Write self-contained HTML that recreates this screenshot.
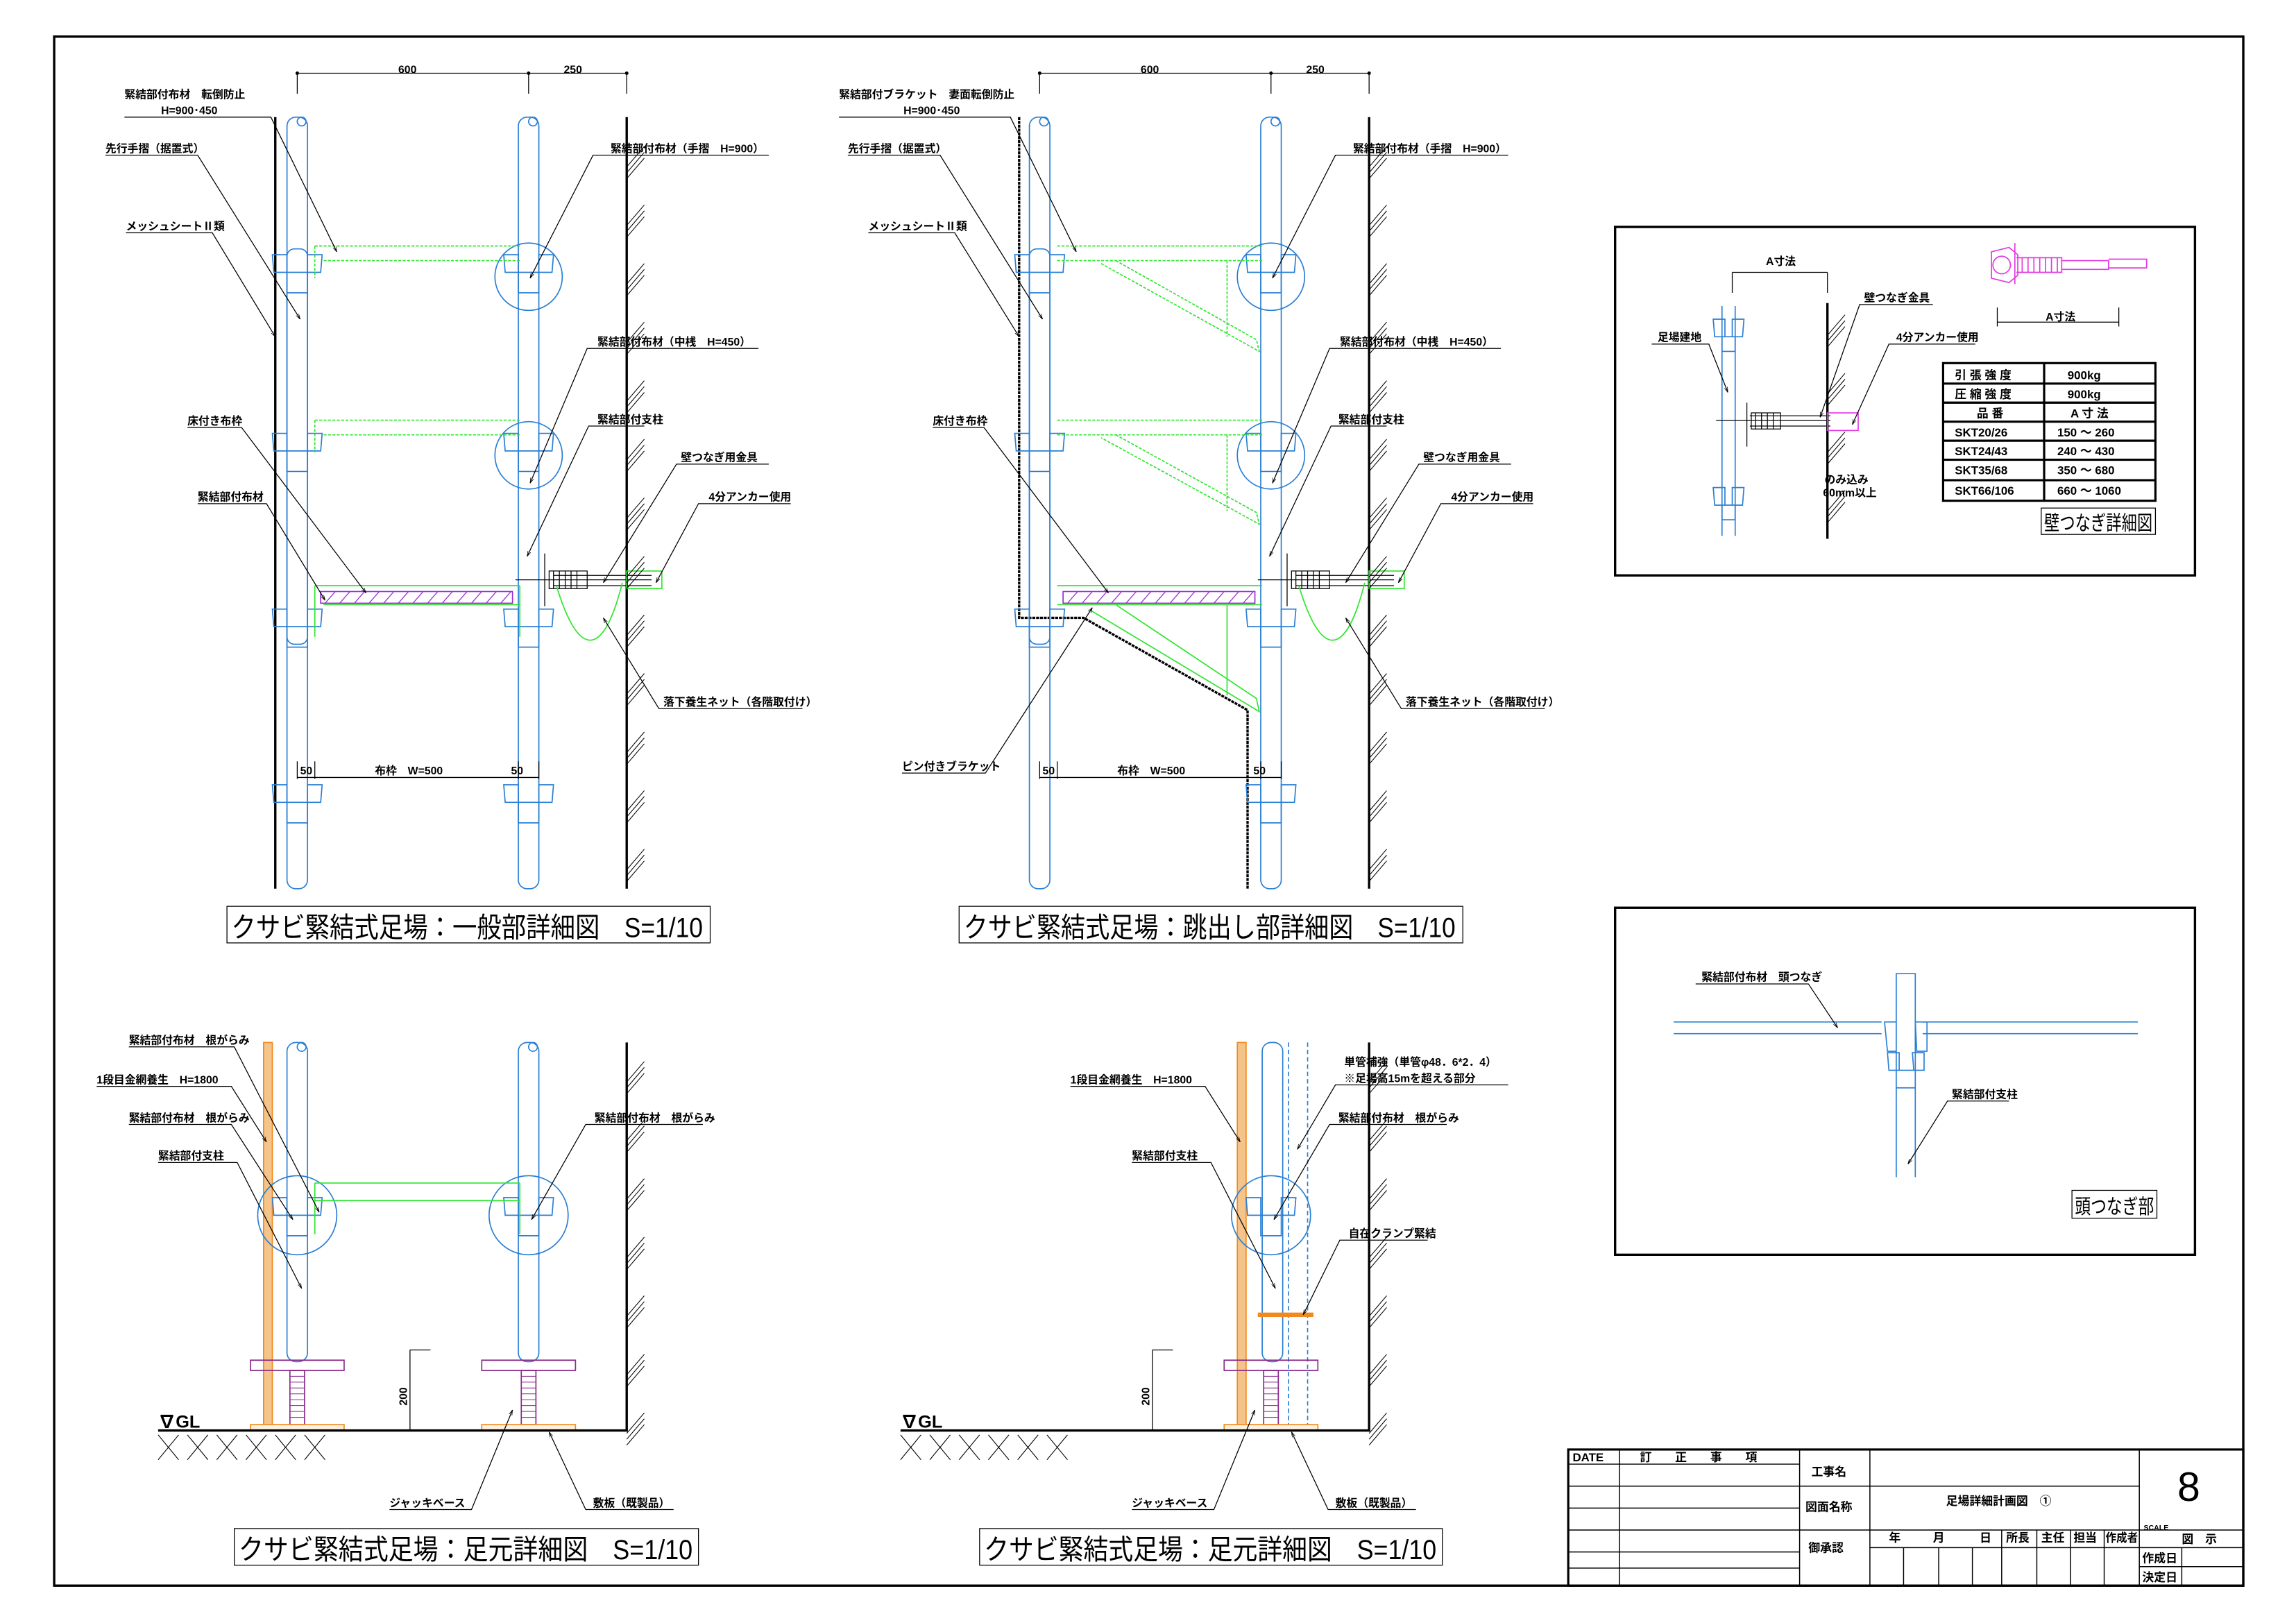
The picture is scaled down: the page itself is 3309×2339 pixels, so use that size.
<!DOCTYPE html>
<html><head><meta charset="utf-8"><style>
html,body{margin:0;padding:0;background:#fff}
svg{display:block}
text{font-family:"Liberation Sans","Noto Sans CJK JP",sans-serif;font-weight:bold;fill:#000}
.l{font-size:7.5px}
.t{font-size:19px;font-weight:normal}
.k{stroke:#000;fill:none;stroke-width:0.6}
.K{stroke:#000;fill:none;stroke-width:1.6}
.b{stroke:#2a7fd4;fill:none;stroke-width:0.8}
.g{stroke:#2ee62e;fill:none;stroke-width:0.8}
.gd{stroke:#2ee62e;fill:none;stroke-width:0.8;stroke-dasharray:2 1}
</style></head><body>
<svg id="s" width="3309" height="2339" viewBox="0 0 1568 1108.5" preserveAspectRatio="none" xmlns="http://www.w3.org/2000/svg">
<defs>
<marker id="ar" viewBox="0 0 10 10" refX="10" refY="5" markerWidth="6" markerHeight="6" orient="auto"><path d="M0,2 L10,5 L0,8" fill="none" stroke="#000" stroke-width="1"/></marker>
<g id="tube"><rect x="-7" y="0" width="14" height="527" rx="6" class="b"/><circle cx="3" cy="3" r="3" class="b"/></g>
<g id="cpl"><path d="M-17,-4 h10 v12 h-9 z M7,-4 h10 l-1,12 h-9 z M-7,8 h14 v14 h-14 z" class="b"/></g>
</defs>
<rect x="37" y="25" width="1495" height="1058" class="K" stroke-width="1"/>

<!-- ============ DRAWING 1 ============ -->
<g id="d1">
<line x1="203" y1="50" x2="428" y2="50" class="k"/>
<line x1="203" y1="50" x2="203" y2="64" class="k"/><line x1="361" y1="50" x2="361" y2="64" class="k"/><line x1="428" y1="50" x2="428" y2="64" class="k"/>
<circle cx="203" cy="50" r="1.2"/><circle cx="361" cy="50" r="1.2"/><circle cx="428" cy="50" r="1.2"/>
<text x="272" y="50" class="l">600</text><text x="385" y="50" class="l">250</text>
<line x1="188" y1="80" x2="188" y2="607" class="K" stroke-width="1.3"/>
<line x1="428" y1="80" x2="428" y2="607" class="K"/>
<use href="#tube" x="203" y="80"/><use href="#tube" x="361" y="80"/>
<rect x="196" y="170" width="14" height="270" rx="5" class="b"/>
<use href="#cpl" x="203" y="178"/><use href="#cpl" x="361" y="178"/>
<use href="#cpl" x="203" y="300"/><use href="#cpl" x="361" y="300"/>
<use href="#cpl" x="203" y="420"/><use href="#cpl" x="361" y="420"/>
<use href="#cpl" x="203" y="540"/><use href="#cpl" x="361" y="540"/>
<circle cx="361" cy="189" r="23" class="b"/><circle cx="361" cy="311" r="23" class="b"/>
<path d="M215,168 H355 M221,178 H355 M215,168 v22" class="gd"/>
<path d="M215,287 H355 M221,297 H355 M215,287 v22" class="gd"/>
<path d="M215,400 H355 M221,413 H355 M215,400 v35 M355,400 v35" class="g"/>
<rect x="219" y="404" width="131" height="8" stroke="#9b30d0" fill="none" stroke-width="0.8"/>
<path id="hx" d="M222,412 l7,-8 M232,412 l7,-8 M242,412 l7,-8 M252,412 l7,-8 M262,412 l7,-8 M272,412 l7,-8 M282,412 l7,-8 M292,412 l7,-8 M302,412 l7,-8 M312,412 l7,-8 M322,412 l7,-8 M332,412 l7,-8 M342,412 l7,-8" stroke="#9b30d0" stroke-width="0.6"/>
<path d="M352,396 H445 M378,393 H445 M378,400 H445" class="k"/>
<path d="M372,378 v36 M375,390 h26 v12 h-26 z M378,390 v12 M382,390 v12 M386,390 v12 M390,390 v12 M394,390 v12" class="k"/>
<rect x="428" y="390" width="24" height="12" class="g" stroke="#b6f23a"/>
<path d="M380,400 C395,450 412,450 425,398" class="g"/>
<path d="M203,520 v12 M215,520 v12 M354,520 v12 M368,520 v12 M203,531 H368" class="k"/>
<text x="205" y="529" class="l">50</text><text x="256" y="529" class="l">布枠　W=500</text><text x="349" y="529" class="l">50</text>
<text x="85" y="67" class="l">緊結部付布材　転倒防止</text><text x="110" y="78" class="l">H=900･450</text>
<path d="M85,80 H185 L230,172" class="k" marker-end="url(#ar)"/>
<text x="72" y="104" class="l">先行手摺（据置式）</text><path d="M72,106 H135 L205,218" class="k" marker-end="url(#ar)"/>
<text x="86" y="157" class="l">メッシュシートⅡ類</text><path d="M86,159 H145 L188,230" class="k" marker-end="url(#ar)"/>
<text x="128" y="290" class="l">床付き布枠</text><path d="M128,292 H165 L250,405" class="k" marker-end="url(#ar)"/>
<text x="135" y="342" class="l">緊結部付布材</text><path d="M135,344 H182 L222,410" class="k" marker-end="url(#ar)"/>
<text x="417" y="104" class="l">緊結部付布材（手摺　H=900）</text><path d="M525,106 H405 L362,190" class="k" marker-end="url(#ar)"/>
<text x="408" y="236" class="l">緊結部付布材（中桟　H=450）</text><path d="M518,238 H401 L362,330" class="k" marker-end="url(#ar)"/>
<text x="408" y="289" class="l">緊結部付支柱</text><path d="M440,291 H402 L360,380" class="k" marker-end="url(#ar)"/>
<text x="465" y="315" class="l">壁つなぎ用金具</text><path d="M525,317 H462 L412,398" class="k" marker-end="url(#ar)"/>
<text x="484" y="342" class="l">4分アンカー使用</text><path d="M540,344 H477 L448,398" class="k" marker-end="url(#ar)"/>
<text x="453" y="482" class="l">落下養生ネット（各階取付け）</text><path d="M548,484 H450 L412,422" class="k" marker-end="url(#ar)"/>
</g>

<!-- ============ DRAWING 2 ============ -->
<g>
<line x1="710" y1="50" x2="935" y2="50" class="k"/>
<line x1="710" y1="50" x2="710" y2="64" class="k"/><line x1="868" y1="50" x2="868" y2="64" class="k"/><line x1="935" y1="50" x2="935" y2="64" class="k"/>
<circle cx="710" cy="50" r="1.2"/><circle cx="868" cy="50" r="1.2"/><circle cx="935" cy="50" r="1.2"/>
<text x="779" y="50" class="l">600</text><text x="892" y="50" class="l">250</text>
<path d="M696,80 V422 H740 L852,485 V607" class="K" stroke-width="1.3" stroke-dasharray="2 0.6"/>
<line x1="935" y1="80" x2="935" y2="607" class="K"/>
<use href="#tube" x="710" y="80"/><use href="#tube" x="868" y="80"/>
<rect x="703" y="170" width="14" height="270" rx="5" class="b"/>
<use href="#cpl" x="710" y="178"/><use href="#cpl" x="868" y="178"/>
<use href="#cpl" x="710" y="300"/><use href="#cpl" x="868" y="300"/>
<use href="#cpl" x="710" y="420"/><use href="#cpl" x="868" y="420"/>
<use href="#cpl" x="868" y="540"/>
<circle cx="868" cy="189" r="23" class="b"/><circle cx="868" cy="311" r="23" class="b"/>
<path d="M722,168 H862 M722,178 H862 M762,178 L858,232 L860,240 L752,180 M838,178 v52" class="gd"/>
<path d="M722,287 H862 M722,297 H862 M762,297 L858,350 L860,358 L752,299 M838,297 v52" class="gd"/>
<path d="M722,400 H862 M722,413 H862 M762,413 L858,477 L860,486 L745,417 M838,413 v62" class="g"/>
<rect x="726" y="404" width="131" height="8" stroke="#9b30d0" fill="none" stroke-width="0.8"/>
<use href="#hx" x="507" y="0"/>
<path d="M859,396 H952 M885,393 H952 M885,400 H952" class="k"/>
<path d="M879,378 v36 M882,390 h26 v12 h-26 z M885,390 v12 M889,390 v12 M893,390 v12 M897,390 v12 M901,390 v12" class="k"/>
<rect x="935" y="390" width="24" height="12" class="g" stroke="#b6f23a"/>
<path d="M887,400 C902,450 919,450 932,398" class="g"/>
<path d="M710,520 v12 M722,520 v12 M861,520 v12 M875,520 v12 M710,531 H875" class="k"/>
<text x="712" y="529" class="l">50</text><text x="763" y="529" class="l">布枠　W=500</text><text x="856" y="529" class="l">50</text>
<text x="573" y="67" class="l">緊結部付ブラケット　妻面転倒防止</text><text x="617" y="78" class="l">H=900･450</text>
<path d="M573,80 H690 L735,172" class="k" marker-end="url(#ar)"/>
<text x="579" y="104" class="l">先行手摺（据置式）</text><path d="M579,106 H642 L712,218" class="k" marker-end="url(#ar)"/>
<text x="593" y="157" class="l">メッシュシートⅡ類</text><path d="M593,159 H652 L696,230" class="k" marker-end="url(#ar)"/>
<text x="637" y="290" class="l">床付き布枠</text><path d="M637,292 H672 L757,405" class="k" marker-end="url(#ar)"/>
<text x="616" y="526" class="l">ピン付きブラケット</text><path d="M616,528 H673 L746,415" class="k" marker-end="url(#ar)"/>
<text x="924" y="104" class="l">緊結部付布材（手摺　H=900）</text><path d="M1030,106 H912 L869,190" class="k" marker-end="url(#ar)"/>
<text x="915" y="236" class="l">緊結部付布材（中桟　H=450）</text><path d="M1025,238 H908 L869,330" class="k" marker-end="url(#ar)"/>
<text x="914" y="289" class="l">緊結部付支柱</text><path d="M947,291 H909 L867,380" class="k" marker-end="url(#ar)"/>
<text x="972" y="315" class="l">壁つなぎ用金具</text><path d="M1032,317 H969 L919,398" class="k" marker-end="url(#ar)"/>
<text x="991" y="342" class="l">4分アンカー使用</text><path d="M1047,344 H984 L955,398" class="k" marker-end="url(#ar)"/>
<text x="960" y="482" class="l">落下養生ネット（各階取付け）</text><path d="M1055,484 H957 L919,422" class="k" marker-end="url(#ar)"/>
</g>

<!-- titles -->
<rect x="155" y="619" width="330" height="25" class="k"/><text x="158" y="640" class="t" textLength="322" lengthAdjust="spacingAndGlyphs">クサビ緊結式足場：一般部詳細図　S=1/10</text>
<rect x="655" y="619" width="344" height="25" class="k"/><text x="658" y="640" class="t" textLength="336" lengthAdjust="spacingAndGlyphs">クサビ緊結式足場：跳出し部詳細図　S=1/10</text>
<rect x="160" y="1044" width="317" height="25" class="k"/><text x="163" y="1065" class="t" textLength="310" lengthAdjust="spacingAndGlyphs">クサビ緊結式足場：足元詳細図　S=1/10</text>
<rect x="669" y="1044" width="316" height="25" class="k"/><text x="672" y="1065" class="t" textLength="309" lengthAdjust="spacingAndGlyphs">クサビ緊結式足場：足元詳細図　S=1/10</text>

<!-- ============ DRAWING 3 ============ -->
<g id="d3">
<rect x="180" y="712" width="6" height="263" fill="#f4c48a" stroke="#f08a1e" stroke-width="0.8"/>
<rect x="196" y="712" width="14" height="218" rx="6" class="b"/><rect x="354" y="712" width="14" height="218" rx="6" class="b"/>
<circle cx="206" cy="715" r="3" class="b"/><circle cx="364" cy="715" r="3" class="b"/>
<circle cx="203" cy="830" r="27" class="b"/><circle cx="361" cy="830" r="27" class="b"/>
<use href="#cpl" x="203" y="822"/><use href="#cpl" x="361" y="822"/>
<path d="M215,808 H355 M215,820 H355 M215,808 v35 M355,808 v35" class="g"/>
<path d="M171,929 H235 V936 H171 Z M329,929 H393 V936 H329 Z" stroke="#8a2a8a" fill="none" stroke-width="0.8"/>
<path d="M198,936 h10 v37 h-10 z M356,936 h10 v37 h-10 z" stroke="#8a2a8a" fill="none" stroke-width="0.8"/>
<path d="M198,940 h10 M198,944 h10 M198,948 h10 M198,952 h10 M198,956 h10 M198,960 h10 M198,964 h10 M198,968 h10 M356,940 h10 M356,944 h10 M356,948 h10 M356,952 h10 M356,956 h10 M356,960 h10 M356,964 h10 M356,968 h10" stroke="#8a2a8a" stroke-width="0.5"/>
<path d="M171,973 H235 V977 H171 Z M329,973 H393 V977 H329 Z" stroke="#f08a1e" fill="#fff1e0" stroke-width="0.8"/>
<path d="M108,977 H428 V712" class="K"/>
<path d="M280,922 V977 M280,922 h14" class="k"/><text x="278" y="960" class="l" transform="rotate(-90 278 960)">200</text>
<text x="108" y="975" style="font-size:12px">∇GL</text>
<text x="88" y="713" class="l">緊結部付布材　根がらみ</text><path d="M88,715 H160 L218,828" class="k" marker-end="url(#ar)"/>
<text x="66" y="740" class="l">1段目金網養生　H=1800</text><path d="M66,742 H158 L182,780" class="k" marker-end="url(#ar)"/>
<text x="88" y="766" class="l">緊結部付布材　根がらみ</text><path d="M88,768 H158 L200,833" class="k" marker-end="url(#ar)"/>
<text x="108" y="792" class="l">緊結部付支柱</text><path d="M108,794 H162 L206,880" class="k" marker-end="url(#ar)"/>
<text x="406" y="766" class="l">緊結部付布材　根がらみ</text><path d="M480,768 H400 L363,833" class="k" marker-end="url(#ar)"/>
<text x="266" y="1029" class="l">ジャッキベース</text><path d="M266,1031 H322 L350,963" class="k" marker-end="url(#ar)"/>
<text x="405" y="1029" class="l">敷板（既製品）</text><path d="M460,1031 H400 L375,978" class="k" marker-end="url(#ar)"/>
</g>

<!-- ============ DRAWING 4 ============ -->
<g>
<rect x="845" y="712" width="6" height="263" fill="#f4c48a" stroke="#f08a1e" stroke-width="0.8"/>
<rect x="862" y="712" width="14" height="218" rx="6" class="b"/>
<path d="M880,712 V975 M893,712 V975" class="b" stroke-dasharray="3 2"/>
<circle cx="868" cy="830" r="27" class="b"/>
<use href="#cpl" x="868" y="822"/>
<path d="M859,898 H897" stroke="#f08a1e" stroke-width="3"/>
<path d="M836,929 H900 V936 H836 Z" stroke="#8a2a8a" fill="none" stroke-width="0.8"/>
<path d="M863,936 h10 v37 h-10 z" stroke="#8a2a8a" fill="none" stroke-width="0.8"/>
<path d="M863,940 h10 M863,944 h10 M863,948 h10 M863,952 h10 M863,956 h10 M863,960 h10 M863,964 h10 M863,968 h10" stroke="#8a2a8a" stroke-width="0.5"/>
<path d="M836,973 H900 V977 H836 Z" stroke="#f08a1e" fill="#fff1e0" stroke-width="0.8"/>
<path d="M615,977 H935 V712" class="K"/>
<path d="M787,922 V977 M787,922 h14" class="k"/><text x="785" y="960" class="l" transform="rotate(-90 785 960)">200</text>
<text x="615" y="975" style="font-size:12px">∇GL</text>
<text x="731" y="740" class="l">1段目金網養生　H=1800</text><path d="M731,742 H823 L847,780" class="k" marker-end="url(#ar)"/>
<text x="918" y="728" class="l">単管補強（単管φ48．6*2．4）</text><text x="918" y="739" class="l">※足場高15mを超える部分</text><path d="M1030,741 H912 L886,785" class="k" marker-end="url(#ar)"/>
<text x="914" y="766" class="l">緊結部付布材　根がらみ</text><path d="M988,768 H908 L870,833" class="k" marker-end="url(#ar)"/>
<text x="773" y="792" class="l">緊結部付支柱</text><path d="M773,794 H827 L871,880" class="k" marker-end="url(#ar)"/>
<text x="921" y="845" class="l">自在クランプ緊結</text><path d="M975,847 H915 L890,898" class="k" marker-end="url(#ar)"/>
<text x="773" y="1029" class="l">ジャッキベース</text><path d="M773,1031 H829 L857,963" class="k" marker-end="url(#ar)"/>
<text x="912" y="1029" class="l">敷板（既製品）</text><path d="M967,1031 H907 L882,978" class="k" marker-end="url(#ar)"/>
</g>

<g id="hatch" stroke="#000" stroke-width="0.5"></g>

<!-- ============ PANEL 1 ============ -->
<rect x="1103" y="155" width="396" height="238" class="K"/>
<path d="M1176,209 V366 M1185,209 V366" class="b"/>
<path d="M1170,218 h8 v12 h-7 z M1183,218 h8 l-1,12 h-7 z M1176,230 h9 v10 h-9 z M1170,333 h8 v12 h-7 z M1183,333 h8 l-1,12 h-7 z M1176,345 h9 v10 h-9 z" class="b"/>
<path d="M1183,186 H1248 M1183,186 v14 M1248,186 v14" class="k"/><text x="1206" y="181" class="l">A寸法</text>
<line x1="1248" y1="207" x2="1248" y2="368" class="K"/>
<path d="M1172,287 H1250 M1195,284 H1250 M1195,291 H1250 M1193,275 v30 M1196,282 h20 v11 h-20 z M1199,282 v11 M1203,282 v11 M1207,282 v11 M1211,282 v11" class="k"/>
<rect x="1248" y="282" width="21" height="12" stroke="#e23ae2" fill="none" stroke-width="0.8"/>
<text x="1132" y="233" class="l">足場建地</text><path d="M1128,235 H1167 L1180,268" class="k" marker-end="url(#ar)"/>
<text x="1273" y="206" class="l">壁つなぎ金具</text><path d="M1320,208 H1270 L1243,285" class="k" marker-end="url(#ar)"/>
<text x="1295" y="233" class="l">4分アンカー使用</text><path d="M1349,235 H1290 L1265,290" class="k" marker-end="url(#ar)"/>
<text x="1246" y="330" class="l">のみ込み</text><text x="1245" y="339" class="l">60mm以上</text>
<g stroke="#e23ae2" fill="none" stroke-width="0.8">
<circle cx="1367" cy="181" r="6"/><path d="M1360,172 l12,-3 l6,5 v14 l-6,5 l-12,-3 z M1376,166 v28 M1377,176 H1408 V186 H1377 M1408,178 H1440 V184 H1408 M1440,177 H1466 V183 H1440"/>
<path d="M1381,176 v10 M1385,176 v10 M1389,176 v10 M1393,176 v10 M1397,176 v10 M1401,176 v10 M1405,176 v10"/>
</g>
<path d="M1364,210 V223 M1447,210 V223 M1364,220 H1447" class="k"/><text x="1397" y="219" class="l">A寸法</text>
<g stroke="#000" stroke-width="1.5" fill="none">
<rect x="1327" y="248" width="145" height="94"/>
<path d="M1327,262 H1472 M1327,275 H1472 M1327,288 H1472 M1327,301 H1472 M1327,314 H1472 M1327,328 H1472 M1396,248 V342"/>
</g>
<g class="l" style="font-size:8px">
<text x="1335" y="259">引 張 強 度</text><text x="1412" y="259">900kg</text>
<text x="1335" y="272">圧 縮 強 度</text><text x="1412" y="272">900kg</text>
<text x="1350" y="285">品 番</text><text x="1414" y="285">A 寸 法</text>
<text x="1335" y="298">SKT20/26</text><text x="1405" y="298">150 ～ 260</text>
<text x="1335" y="311">SKT24/43</text><text x="1405" y="311">240 ～ 430</text>
<text x="1335" y="324">SKT35/68</text><text x="1405" y="324">350 ～ 680</text>
<text x="1335" y="338">SKT66/106</text><text x="1405" y="338">660 ～ 1060</text>
</g>
<rect x="1394" y="347" width="78" height="18" class="k"/><text x="1396" y="362" style="font-size:14px;font-weight:normal" textLength="74" lengthAdjust="spacingAndGlyphs">壁つなぎ詳細図</text>

<!-- ============ PANEL 2 ============ -->
<rect x="1103" y="620" width="396" height="237" class="K"/>
<path d="M1143,698 H1285 M1143,706 H1285 M1313,698 H1460 M1313,706 H1460" class="b"/>
<path d="M1295,804 V665 H1308 V804 M1287,698 h8 v20 h-6 z M1308,698 h8 v20 h-7 z M1289,719 h8 v12 h-7 z M1306,719 h8 v12 h-7 z M1295,731 h13 v12 h-13 z" class="b"/>
<text x="1162" y="670" class="l">緊結部付布材　頭つなぎ</text><path d="M1158,672 H1235 L1255,702" class="k" marker-end="url(#ar)"/>
<text x="1333" y="750" class="l">緊結部付支柱</text><path d="M1372,752 H1330 L1303,795" class="k" marker-end="url(#ar)"/>
<rect x="1415" y="813" width="58" height="19" class="k"/><text x="1417" y="829" style="font-size:14px;font-weight:normal" textLength="54" lengthAdjust="spacingAndGlyphs">頭つなぎ部</text>

<!-- ============ TITLE BLOCK ============ -->
<g stroke="#000" fill="none">
<rect x="1071" y="990" width="461" height="93" stroke-width="1.5"/>
<path d="M1106,990 V1083 M1229,990 V1083 M1277,990 V1083 M1461,990 V1083" stroke-width="0.7"/>
<path d="M1071,1000 H1229 M1071,1015 H1229 M1071,1030 H1229 M1071,1045 H1229 M1071,1060 H1229 M1071,1071 H1229" stroke-width="0.7"/>
<path d="M1229,1015 H1461 M1229,1045 H1532 M1277,1057 H1461 M1461,1070 H1532 M1490,1057 V1083 M1461,1057 H1532" stroke-width="0.7"/>
<path d="M1300,1057 V1083 M1324,1057 V1083 M1347,1057 V1083 M1367,1045 V1083 M1391,1045 V1083 M1414,1045 V1083 M1437,1045 V1083" stroke-width="0.7"/>
</g>
<g class="l" style="font-size:8px">
<text x="1074" y="998">DATE</text><text x="1120" y="998">訂　　正　　事　　項</text>
<text x="1237" y="1008">工事名</text><text x="1233" y="1032">図面名称</text><text x="1235" y="1060">御承認</text>
<text x="1329" y="1028">足場詳細計画図　①</text>
<text x="1290" y="1053">年</text><text x="1320" y="1053">月</text><text x="1352" y="1053">日</text><text x="1370" y="1053">所長</text><text x="1394" y="1053">主任</text><text x="1416" y="1053">担当</text><text x="1438" y="1053" textLength="22" lengthAdjust="spacingAndGlyphs">作成者</text>
<text x="1464" y="1045" style="font-size:5px">SCALE</text><text x="1490" y="1054">図　示</text>
<text x="1463" y="1067">作成日</text><text x="1463" y="1080">決定日</text>
</g>
<text x="1487" y="1025" style="font-size:28px;font-weight:normal">8</text>
</svg>
<script>
(function(){
var g=document.getElementById('hatch'),d='';
function wall(x,y0,y1){for(var y=y0;y<y1;y+=40){for(var k=0;k<3;k++){d+='M'+x+','+(y+14+k*4)+' l12,-14 ';}}}
wall(428,100,600);wall(935,100,600);wall(428,725,970);wall(935,725,970);wall(1248,215,365);
function ground(x0){for(var i=0;i<6;i++){var x=x0+i*20;d+='M'+x+',980 l14,17 M'+(x+14)+',980 l-14,17 ';}}
ground(108);ground(615);
var p=document.createElementNS('http://www.w3.org/2000/svg','path');p.setAttribute('d',d);p.setAttribute('fill','none');g.appendChild(p);
})();
</script>
</body></html>
